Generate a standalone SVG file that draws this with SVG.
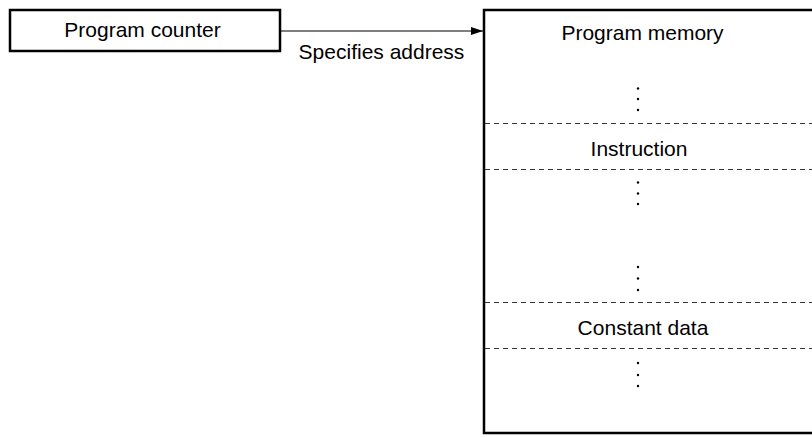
<svg xmlns="http://www.w3.org/2000/svg" width="812" height="437" viewBox="0 0 812 437">
<style>
text{font-family:"Liberation Sans",Arial,sans-serif;font-size:21px;fill:#000}
.box{fill:#fff;stroke:#000;stroke-width:2.5}
.dash{stroke:#333;stroke-width:1;stroke-dasharray:5,4;fill:none}
.dot{fill:#000}
</style>
<defs>
<marker id="ah" markerWidth="12" markerHeight="8" refX="12" refY="4" orient="auto" markerUnits="userSpaceOnUse">
<path d="M0,0 L12,4 L0,8 Z" fill="#000"/>
</marker>
</defs>
<g id="pc">
<rect class="box" x="10" y="10" width="270" height="41"/>
<text x="142.5" y="37" text-anchor="middle">Program counter</text>
</g>
<g id="memory">
<path d="M812,10 H484 V433 H812" fill="none" stroke="#000" stroke-width="2.5"/>
<text x="642.5" y="40" text-anchor="middle">Program memory</text>
<line class="dash" x1="485" y1="123.5" x2="812" y2="123.5"/>
<line class="dash" x1="485" y1="169.5" x2="812" y2="169.5"/>
<line class="dash" x1="485" y1="302.5" x2="812" y2="302.5"/>
<line class="dash" x1="485" y1="348.5" x2="812" y2="348.5"/>
<text x="639" y="156" text-anchor="middle">Instruction</text>
<text x="643" y="335" text-anchor="middle">Constant data</text>
<g class="dot">
<circle cx="638" cy="88.5" r="1.2"/><circle cx="638" cy="99" r="1.2"/><circle cx="638" cy="110" r="1.2"/>
<circle cx="638" cy="182.5" r="1.2"/><circle cx="638" cy="193.5" r="1.2"/><circle cx="638" cy="204" r="1.2"/>
<circle cx="638" cy="267" r="1.2"/><circle cx="638" cy="278.5" r="1.2"/><circle cx="638" cy="290" r="1.2"/>
<circle cx="638" cy="363" r="1.2"/><circle cx="638" cy="375" r="1.2"/><circle cx="638" cy="386" r="1.2"/>
</g>
</g>
<g id="connectors">
<line x1="281" y1="31" x2="483" y2="31" stroke="#000" stroke-width="1" marker-end="url(#ah)"/>
<text x="381.5" y="59" text-anchor="middle">Specifies address</text>
</g>
</svg>
